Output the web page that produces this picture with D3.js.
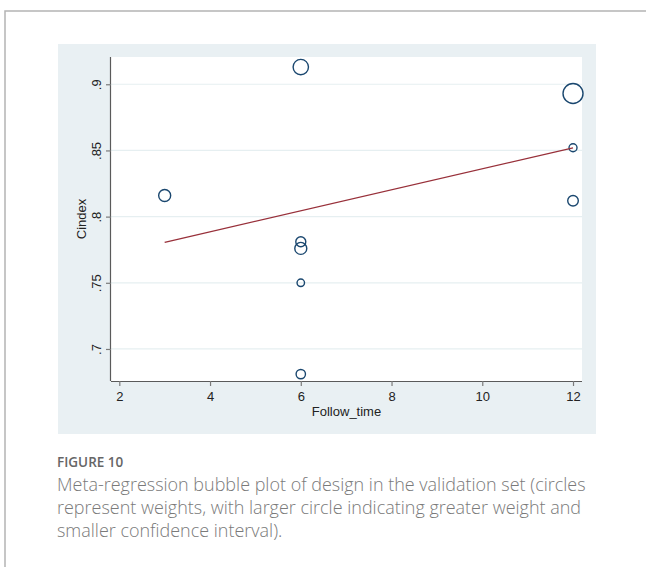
<!DOCTYPE html>
<html>
<head>
<meta charset="utf-8">
<script src="https://cdn.jsdelivr.net/npm/d3@7"></script>
<style>
  html, body { margin: 0; padding: 0; background: #fff; }
  svg { display: block; }
</style>
</head>
<body>
<svg id="fig" width="646" height="567"></svg>
<script>
// Study-level estimates: follow-up time (months) and C-index
const followTime = [3, 6, 6, 6, 6, 6, 12, 12, 12];
const cIndex     = [0.816, 0.913, 0.781, 0.776, 0.750, 0.681, 0.893, 0.852, 0.812];
// Relative study weights (bubble size)
const weights    = [36, 59, 25, 36, 14, 22, 100, 16, 28];

// Fitted meta-regression line end points
const fitX = [3, 12];
const fitY = [0.7806, 0.852];

const xTicks = [2, 4, 6, 8, 10, 12];
const yTicks = [0.7, 0.75, 0.8, 0.85, 0.9];
const yTickLabels = [".7", ".75", ".8", ".85", ".9"];

const captionTitle = "FIGURE 10";
const captionLines = [
  "Meta-regression bubble plot of design in the validation set (circles",
  "represent weights, with larger circle indicating greater weight and",
  "smaller confidence interval)."
];

const svg = d3.select("#fig");

// outer frame of the figure box
svg.append("path")
  .attr("d", "M5,567 V11 H646")
  .attr("fill", "none")
  .attr("stroke", "#b4b4b4")
  .attr("stroke-width", 1.5);

// graph region background
const panel = { x: 58, y: 44, w: 538, h: 390 };
svg.append("rect")
  .attr("x", panel.x).attr("y", panel.y)
  .attr("width", panel.w).attr("height", panel.h)
  .attr("fill", "#e9f0f3");

// plot region
const plot = { left: 111, top: 57, right: 582, bottom: 381 };
svg.append("rect")
  .attr("x", plot.left).attr("y", plot.top)
  .attr("width", plot.right - plot.left).attr("height", plot.bottom - plot.top)
  .attr("fill", "#ffffff");

const x = d3.scaleLinear().domain([1.817, 12.198]).range([plot.left, plot.right]);
const y = d3.scaleLinear().domain([0.6758, 0.9206]).range([plot.bottom, plot.top]);

const font = "'Liberation Sans', Arial, sans-serif";
const tickFs = 13;

// horizontal grid lines
svg.append("g")
  .selectAll("line")
  .data(yTicks)
  .join("line")
  .attr("x1", plot.left).attr("x2", plot.right)
  .attr("y1", d => y(d)).attr("y2", d => y(d))
  .attr("stroke", "#e6eff1")
  .attr("stroke-width", 1.2);

// x axis
const xAxis = svg.append("g")
  .attr("transform", `translate(0,${plot.bottom})`)
  .call(d3.axisBottom(x).tickValues(xTicks).tickFormat(d3.format("d")).tickSizeOuter(0).tickSize(5).tickPadding(6));
xAxis.select(".domain").attr("stroke", "#5a5a5a").attr("stroke-width", 1.2)
  .attr("d", `M${plot.left},0.5H${plot.right}`);
xAxis.selectAll(".tick line").attr("stroke", "#7a7a7a").attr("stroke-width", 1.2);
xAxis.selectAll(".tick text")
  .attr("transform", null)
  .attr("fill", "#222").attr("font-family", font).attr("font-size", tickFs);

// y axis with vertical labels
const yAxis = svg.append("g")
  .attr("transform", `translate(${plot.left},0)`)
  .call(d3.axisLeft(y).tickValues(yTicks).tickFormat((d, i) => yTickLabels[i]).tickSizeOuter(0).tickSize(5));
yAxis.select(".domain").attr("stroke", "#5a5a5a").attr("stroke-width", 1.2)
  .attr("d", `M-0.5,${plot.top}V${plot.bottom}`);
yAxis.selectAll(".tick line").attr("stroke", "#7a7a7a").attr("stroke-width", 1.2);
yAxis.selectAll(".tick text")
  .attr("x", null).attr("dy", null)
  .attr("transform", "translate(-15,0) rotate(-90)")
  .attr("text-anchor", "middle")
  .attr("dominant-baseline", "central")
  .attr("fill", "#222").attr("font-family", font).attr("font-size", tickFs);

// axis titles
svg.append("text")
  .attr("x", (plot.left + plot.right) / 2).attr("y", 416)
  .attr("text-anchor", "middle")
  .attr("fill", "#222").attr("font-family", font).attr("font-size", tickFs)
  .text("Follow_time");
svg.append("text")
  .attr("transform", `translate(86,${(plot.top + plot.bottom) / 2}) rotate(-90)`)
  .attr("text-anchor", "middle")
  .attr("fill", "#222").attr("font-family", font).attr("font-size", tickFs)
  .text("Cindex");

// bubbles sized by weight
const r = d3.scaleSqrt().domain([0, 100]).range([0, 10]);
const pts = followTime.map((f, i) => ({ f, c: cIndex[i], w: weights[i] }));
svg.append("g")
  .selectAll("circle")
  .data(pts)
  .join("circle")
  .attr("cx", d => x(d.f))
  .attr("cy", d => y(d.c))
  .attr("r", d => r(d.w))
  .attr("fill", "none")
  .attr("stroke", "#1a476f")
  .attr("stroke-width", 1.4);

// fitted line
svg.append("line")
  .attr("x1", x(fitX[0])).attr("y1", y(fitY[0]))
  .attr("x2", x(fitX[1])).attr("y2", y(fitY[1]))
  .attr("stroke", "#98303a")
  .attr("stroke-width", 1.3);

// caption
svg.append("text")
  .attr("x", 57).attr("y", 467)
  .attr("fill", "#666")
  .attr("font-family", "'Open Sans', 'Noto Sans', sans-serif")
  .attr("font-weight", 600)
  .attr("font-size", 13.5)
  .text(captionTitle);

const cap = svg.append("g")
  .attr("font-family", "'Open Sans', 'Noto Sans', sans-serif")
  .attr("font-weight", 300)
  .attr("fill", "#7a7a7a");
const capText = cap.selectAll("text")
  .data(captionLines)
  .join("text")
  .attr("x", 57)
  .attr("y", (d, i) => 491 + i * 23)
  .attr("font-size", 18)
  .text(d => d);
// scale caption type so the first line spans the text column
const w0 = capText.node().getComputedTextLength();
const fs = 18 * 529 / w0;
capText.attr("font-size", fs);
</script>
</body>
</html>
